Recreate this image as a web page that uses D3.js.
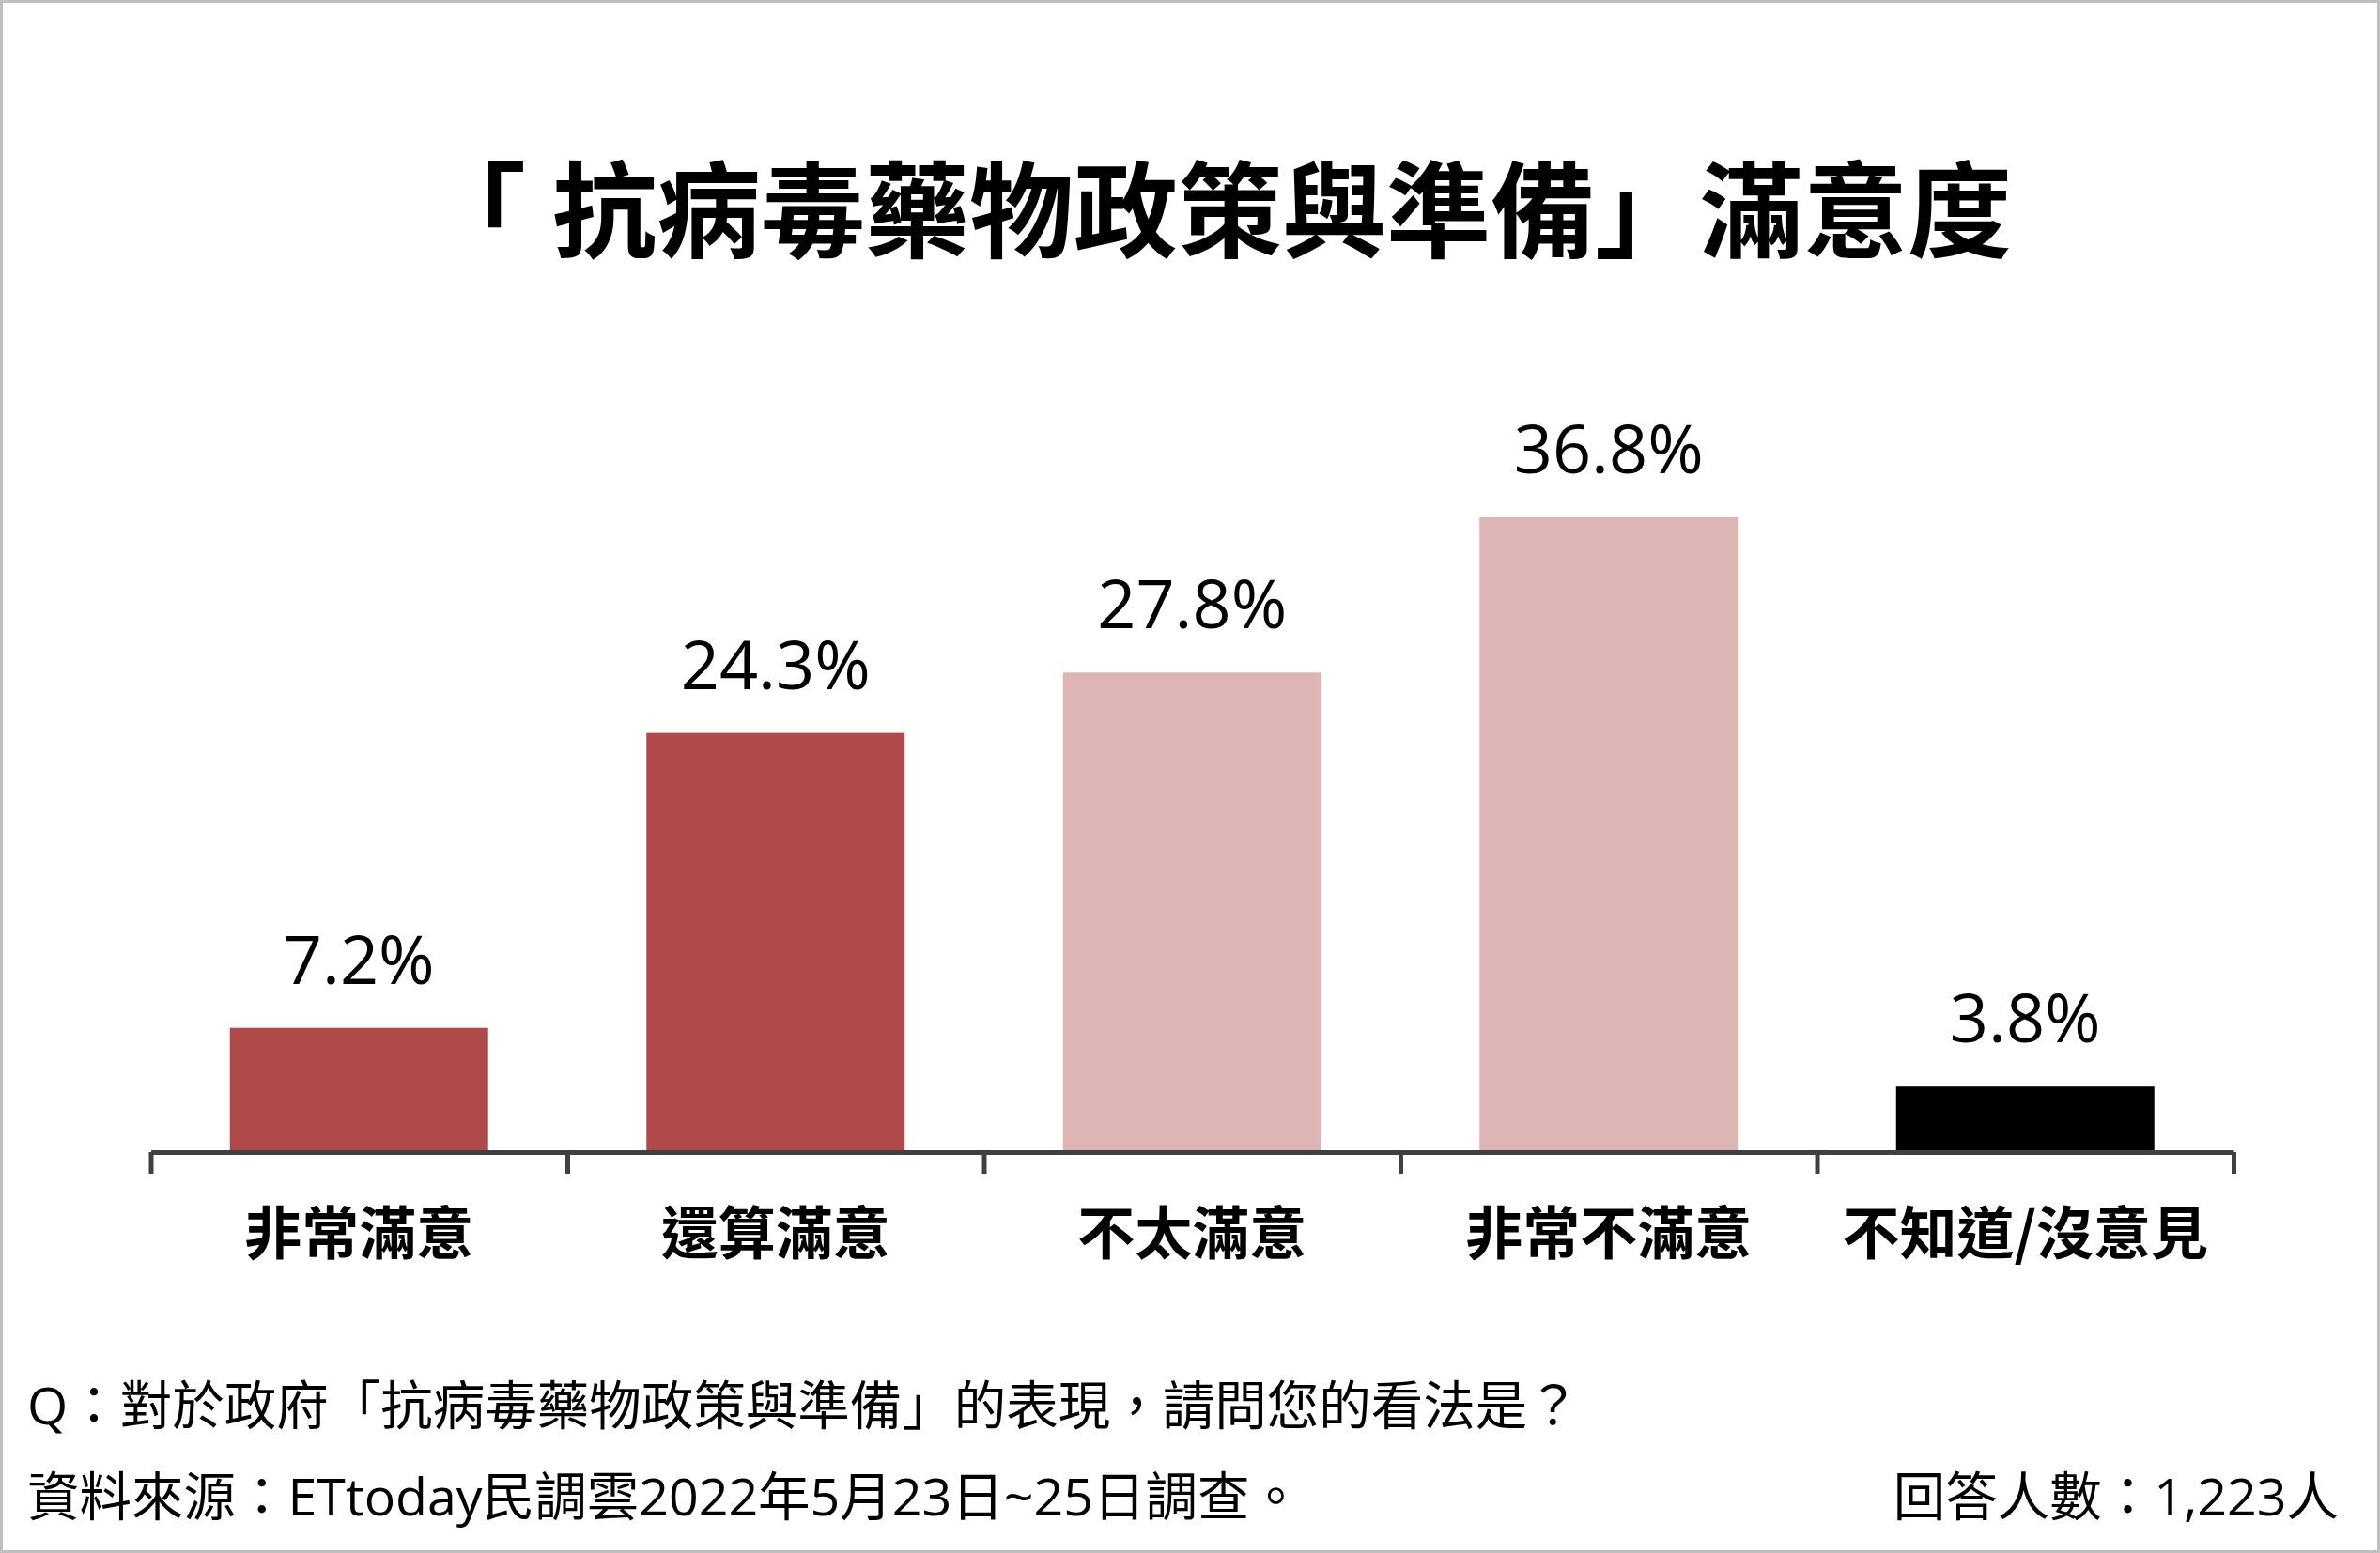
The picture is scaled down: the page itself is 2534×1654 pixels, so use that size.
<!DOCTYPE html>
<html>
<head>
<meta charset="utf-8">
<script src="https://cdn.jsdelivr.net/npm/d3@7"></script>
<style>
html,body{margin:0;padding:0;background:#fff;}
svg{display:block;}
</style>
</head>
<body>
<svg id="chart" width="2534" height="1654"></svg>
<script>
const titleOpen = "「";
const titleRest = "抗病毒藥物政策與準備」滿意度";
const categories = ["非常滿意", "還算滿意", "不太滿意", "非常不滿意", "不知道/沒意見"];
const values = [7.2, 24.3, 27.8, 36.8, 3.8];
const colors = ["#b04a4a", "#b04a4a", "#deb5b5", "#deb5b5", "#000000"];
const question = "Q：對於政府「抗病毒藥物政策與準備」的表現，請問您的看法是？";
const source = "資料來源：ETtoday民調雲2022年5月23日~25日調查。";
const sample = "回答人數：1,223人";

const W = 2534, H = 1654;
const svg = d3.select("#chart");

// border
svg.append("rect").attr("x", 1.5).attr("y", 1.5).attr("width", W - 3).attr("height", H - 3)
  .attr("fill", "#fff").attr("stroke", "#bfbfbf").attr("stroke-width", 3);

const x0 = 160.5, x1 = 2378;
const x = d3.scaleBand().domain(categories).range([x0, x1]).paddingInner(0.38).paddingOuter(0.19);
const y = d3.scaleLinear().domain([0, 40]).range([1227, 1227 - 40 * 18.37]);

// bars
svg.append("g").selectAll("rect").data(values).join("rect")
  .attr("x", (d, i) => x(categories[i]))
  .attr("width", x.bandwidth())
  .attr("y", d => y(d))
  .attr("height", d => y(0) - y(d))
  .attr("fill", (d, i) => colors[i]);

// axis with ticks at band boundaries
const tickScale = d3.scaleLinear().domain([0, categories.length]).range([x0, x1]);
const axis = d3.axisBottom(tickScale).tickValues(d3.range(categories.length + 1))
  .tickFormat("").tickSize(23).tickSizeOuter(0);
const gAxis = svg.append("g").attr("transform", `translate(0,${y(0)})`).call(axis);
gAxis.select(".domain").attr("stroke", "#404040").attr("stroke-width", 5);
gAxis.selectAll(".tick line").attr("stroke", "#404040").attr("stroke-width", 5);

// value labels
svg.append("g").selectAll("text").data(values).join("text")
  .attr("x", (d, i) => x(categories[i]) + x.bandwidth() / 2)
  .attr("y", d => y(d) - 47)
  .attr("text-anchor", "middle")
  .attr("font-family", "'Open Sans', 'Noto Sans', sans-serif")
  .attr("font-size", 72)
  .attr("fill", "#000")
  .text(d => d.toFixed(1) + "%");

// category labels
svg.append("g").selectAll("text").data(categories).join("text")
  .attr("x", d => x(d) + x.bandwidth() / 2)
  .attr("y", 1309)
  .attr("dominant-baseline", "central")
  .attr("text-anchor", "middle")
  .attr("font-family", "'Noto Sans CJK TC', 'Noto Sans CJK SC', sans-serif")
  .attr("font-weight", 700)
  .attr("font-size", 61)
  .attr("fill", "#000")
  .text(d => d);

// title
const t = svg.append("text")
  .attr("x", 477).attr("y", 217)
  .attr("dominant-baseline", "central")
  .attr("font-family", "'Noto Sans CJK TC', 'Noto Sans CJK SC', sans-serif")
  .attr("font-weight", 700)
  .attr("font-size", 111)
  .attr("fill", "#000");
t.append("tspan").attr("dx", -28).text(titleOpen);
t.append("tspan").attr("dx", 28).text(titleRest);

// footer
const footFont = "'Open Sans', 'Noto Sans CJK TC', sans-serif";
svg.append("text").attr("x", 29).attr("y", 1495).attr("dominant-baseline", "central")
  .attr("font-family", footFont).attr("font-size", 55.5).attr("fill", "#000").text(question);
svg.append("text").attr("x", 29).attr("y", 1592).attr("dominant-baseline", "central")
  .attr("font-family", footFont).attr("font-size", 55.5).attr("fill", "#000").text(source);
svg.append("text").attr("x", 2490).attr("y", 1592).attr("dominant-baseline", "central")
  .attr("text-anchor", "end")
  .attr("font-family", footFont).attr("font-size", 55.5).attr("fill", "#000").text(sample);
</script>
</body>
</html>
